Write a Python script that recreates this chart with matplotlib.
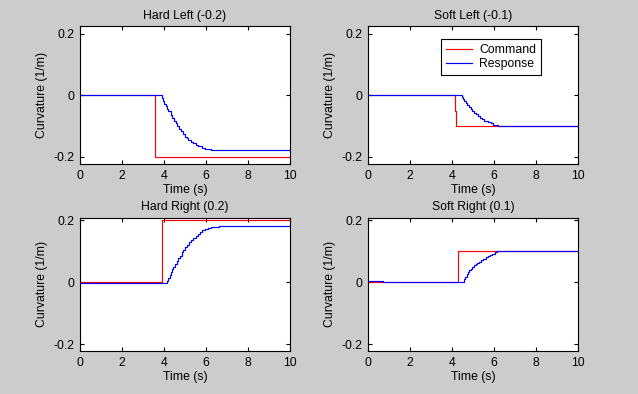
import matplotlib
matplotlib.use("Agg")
import matplotlib.pyplot as plt

plt.rcParams['font.family'] = ['Liberation Sans', 'DejaVu Sans']
plt.rcParams['font.size'] = 8.8

# Hard Left (-0.2)
hl_cmd_t = [0, 3.58, 10]
hl_cmd_v = [0, -0.2, -0.2]
hl_rsp_t = [0, 3.92, 3.97, 4.02, 4.08, 4.14, 4.21, 4.32, 4.37, 4.48, 4.56, 4.63, 4.73, 4.79,
            4.89, 4.98, 5.08, 5.16, 5.27, 5.40, 5.51, 5.63, 5.79, 5.95, 6.11, 6.24, 10]
hl_rsp_v = [0, -0.010, -0.018, -0.028, -0.035, -0.045, -0.053, -0.064, -0.075, -0.084, -0.092,
            -0.101, -0.111, -0.118, -0.126, -0.135, -0.140, -0.146, -0.151, -0.156, -0.162,
            -0.167, -0.171, -0.174, -0.176, -0.178, -0.178]

# Soft Left (-0.1)
sl_cmd_t = [0, 4.16, 4.20, 10]
sl_cmd_v = [0, -0.05, -0.101, -0.101]
sl_rsp_t = [0, 4.49, 4.54, 4.59, 4.67, 4.73, 4.81, 4.89, 4.97, 5.05, 5.13, 5.22, 5.32, 5.43,
            5.54, 5.70, 5.84, 5.97, 6.10, 6.21, 10]
sl_rsp_v = [0.002, -0.005, -0.012, -0.019, -0.026, -0.032, -0.038, -0.045, -0.050, -0.057,
            -0.062, -0.067, -0.073, -0.077, -0.083, -0.088, -0.092, -0.096, -0.098, -0.099, -0.099]

# Hard Right (0.2)
hr_cmd_t = [0, 3.92, 10]
hr_cmd_v = [0, 0.2, 0.2]
hr_rsp_t = [0, 4.16, 4.21, 4.27, 4.32, 4.38, 4.44, 4.52, 4.60, 4.67, 4.75, 4.84, 4.92, 5.02,
            5.11, 5.21, 5.30, 5.40, 5.51, 5.60, 5.71, 5.83, 5.95, 6.08, 6.22, 6.40, 6.63, 10]
hr_rsp_v = [-0.003, 0.005, 0.015, 0.024, 0.032, 0.042, 0.050, 0.059, 0.069, 0.077, 0.086,
            0.096, 0.104, 0.113, 0.120, 0.129, 0.136, 0.144, 0.150, 0.157, 0.161, 0.167,
            0.171, 0.174, 0.177, 0.179, 0.181, 0.181]

# Soft Right (0.1)
sr_cmd_t = [0, 4.30, 10]
sr_cmd_v = [0, 0.1, 0.1]
sr_rsp_t = [0, 0.71, 4.59, 4.63, 4.70, 4.78, 4.83, 4.90, 4.97, 5.05, 5.13, 5.21, 5.30, 5.38,
            5.49, 5.60, 5.70, 5.81, 5.92, 6.05, 6.16, 6.29, 10]
sr_rsp_v = [0.003, 0, 0.010, 0.018, 0.026, 0.033, 0.038, 0.044, 0.049, 0.054, 0.058, 0.062,
            0.065, 0.071, 0.076, 0.081, 0.085, 0.088, 0.092, 0.096, 0.099, 0.100, 0.100]

titles = ['Hard Left (-0.2)', 'Soft Left (-0.1)', 'Hard Right (0.2)', 'Soft Right (0.1)']
yticks = [-0.2, 0, 0.2]
ytick_labels = ['-0.2', '0', '0.2']
xticks = [0, 2, 4, 6, 8, 10]

W, H = 638, 394
fig = plt.figure(figsize=(W / 100, H / 100), dpi=100, facecolor='#cccccc')

# pixel boxes: left, top, right, bottom ; plus y limits
boxes = [(80, 26.3, 290, 164, (-0.224, 0.224)),
         (368, 26.3, 578, 164, (-0.224, 0.224)),
         (80, 217.7, 290, 351, (-0.222, 0.208)),
         (368, 217.7, 578, 351, (-0.222, 0.208))]

data = [(hl_cmd_t, hl_cmd_v, hl_rsp_t, hl_rsp_v),
        (sl_cmd_t, sl_cmd_v, sl_rsp_t, sl_rsp_v),
        (hr_cmd_t, hr_cmd_v, hr_rsp_t, hr_rsp_v),
        (sr_cmd_t, sr_cmd_v, sr_rsp_t, sr_rsp_v)]

for i, (l, t, r, b, ylim) in enumerate(boxes):
    ax = fig.add_axes([l / W, 1 - b / H, (r - l) / W, (b - t) / H])
    ax.set_facecolor('white')
    ct, cv, rt, rv = data[i]
    ax.plot(ct, cv, color='#ff0000', lw=0.85, drawstyle='steps-post', label='Command')
    ax.plot(rt, rv, color='#0000ff', lw=0.85, drawstyle='steps-post', label='Response')
    ax.set_xlim(0, 10)
    ax.set_ylim(*ylim)
    ax.set_xticks(xticks)
    ax.set_yticks(yticks)
    ax.set_yticklabels(ytick_labels)
    ax.tick_params(direction='in', length=3, width=0.8, top=True, right=True,
                   colors='black', pad=4)
    for s in ax.spines.values():
        s.set_linewidth(0.8)
    ax.set_title(titles[i], pad=5.5, fontsize=8.8)
    ax.set_xlabel('Time (s)', labelpad=1.5)
    ax.set_ylabel('Curvature (1/m)', labelpad=4)
    if i == 1:
        leg = ax.legend(loc='upper left', bbox_to_anchor=(0.348, 0.907), borderaxespad=0,
                        fancybox=False, framealpha=1, edgecolor='black', handlelength=2.1,
                        handletextpad=0.6, labelspacing=0.2, borderpad=0.4)
        leg.get_frame().set_linewidth(0.8)

fig.savefig('out.png', dpi=100, facecolor=fig.get_facecolor())
